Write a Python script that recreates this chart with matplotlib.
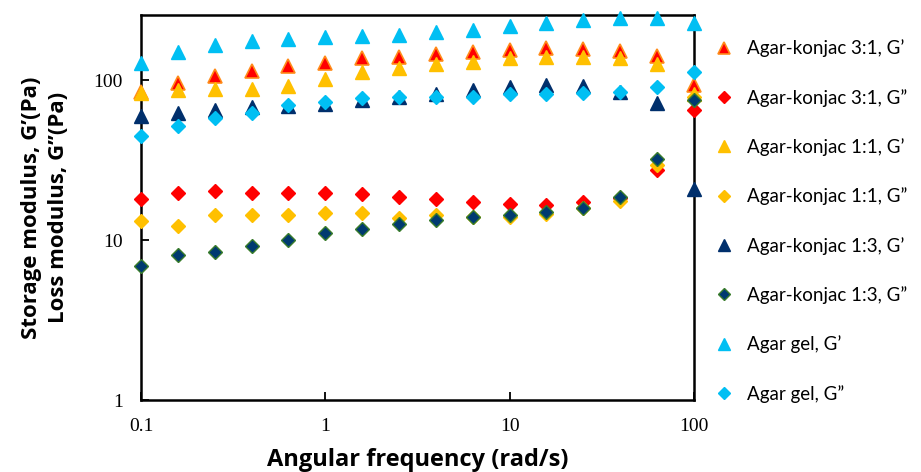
import matplotlib.pyplot as plt

# angular frequency (rad/s)
freq = [0.1, 0.158, 0.251, 0.398, 0.631, 1.0, 1.58, 2.51, 3.98, 6.31,
        10.0, 15.8, 25.1, 39.8, 63.1, 100.0]

ak31_G1 = [84, 96, 106, 114, 122, 128, 137, 139, 145, 150, 154, 158, 156, 152, 141, 93]
ak31_G2 = [18.0, 19.7, 20.2, 19.7, 19.7, 19.7, 19.4, 18.6, 18.0, 17.2, 16.8, 16.5, 17.3, 18.2, 27.4, 65]
ak11_G1 = [83, 87, 88, 88, 92, 101, 112, 119, 126, 130, 137, 140, 140, 137, 126, 82]
ak11_G2 = [13.1, 12.2, 14.3, 14.3, 14.3, 14.7, 14.7, 13.7, 14.3, 14.0, 13.9, 14.5, 15.8, 17.6, 29.5, 78]
ak13_G1 = [60, 62, 65, 68, 69, 71, 75, 78, 82, 87, 90, 93, 92, 84, 72, 21]
ak13_G2 = [6.9, 8.1, 8.4, 9.2, 10.0, 11.0, 11.7, 12.6, 13.3, 13.9, 14.3, 15.0, 15.8, 18.6, 32, 75]
agar_G1 = [128, 150, 165, 175, 180, 185, 188, 191, 200, 205, 217, 227, 237, 244, 244, 226]
agar_G2 = [45, 52, 58, 62, 70, 73, 77, 78, 79, 79, 82, 82, 83, 84, 90, 112]

labels = ["Agar-konjac 3:1, G’", "Agar-konjac 3:1, G”",
          "Agar-konjac 1:1, G’", "Agar-konjac 1:1, G”",
          "Agar-konjac 1:3, G’", "Agar-konjac 1:3, G”",
          "Agar gel, G’", "Agar gel, G”"]

fig = plt.figure(figsize=(9.21, 4.72), dpi=100)
ax = fig.add_axes([0.1531, 0.1525, 0.6004, 0.8155])

kw = dict(clip_on=False, zorder=3)
ax.plot(freq, ak31_G1, '^', ms=9.5, mfc='#FF0000', mec='#FF8C1A', mew=1.2, label=labels[0], **kw)
ax.plot(freq, ak31_G2, 'D', ms=7, mfc='#FF0000', mec='#FF0000', label=labels[1], **kw)
ax.plot(freq, ak11_G1, '^', ms=9.5, mfc='#FFC000', mec='#FFC000', label=labels[2], **kw)
ax.plot(freq, ak11_G2, 'D', ms=7, mfc='#FFC000', mec='#FFC000', label=labels[3], **kw)
ax.plot(freq, ak13_G1, '^', ms=9.5, mfc='#002F6C', mec='#002F6C', label=labels[4], **kw)
ax.plot(freq, ak13_G2, 'D', ms=7, mfc='#003A70', mec='#3A7D2C', mew=1, label=labels[5], **kw)
ax.plot(freq, agar_G1, '^', ms=9.5, mfc='#00BFF3', mec='#00BFF3', label=labels[6], **kw)
ax.plot(freq, agar_G2, 'D', ms=7, mfc='#00BFF3', mec='#00BFF3', label=labels[7], **kw)

ax.set_xscale('log')
ax.set_yscale('log')
ax.set_xticks([0.1, 1, 10, 100])
ax.set_xticklabels(['0.1', '1', '10', '100'])
ax.set_yticks([1, 10, 100])
ax.set_yticklabels(['1', '10', '100'])
ax.minorticks_off()
ax.tick_params(direction='in', length=6, width=1.3, labelsize=14, pad=13)
for t in ax.get_xticklabels() + ax.get_yticklabels():
    t.set_family('Liberation Serif')
for s in ax.spines.values():
    s.set_linewidth(1.8)
ax.set_xlim(0.1, 100)
ax.set_ylim(1, 255)

ax.set_xlabel("Angular frequency (rad/s)", fontsize=17, fontweight='bold',
              family='Open Sans', labelpad=9)
ax.set_ylabel("Storage modulus, G’(Pa)\nLoss modulus, G’’(Pa)", fontsize=16,
              fontweight='bold', family='Open Sans', labelpad=18, linespacing=1.35)

leg = ax.legend(loc='upper left', bbox_to_anchor=(0.99, 1.0), frameon=False,
                prop={'family': 'Lato', 'size': 13.5}, labelspacing=1.68,
                handletextpad=0.6, handlelength=1.2, markerscale=0.85,
                borderaxespad=0.9)

fig.savefig('out.png', dpi=100)
